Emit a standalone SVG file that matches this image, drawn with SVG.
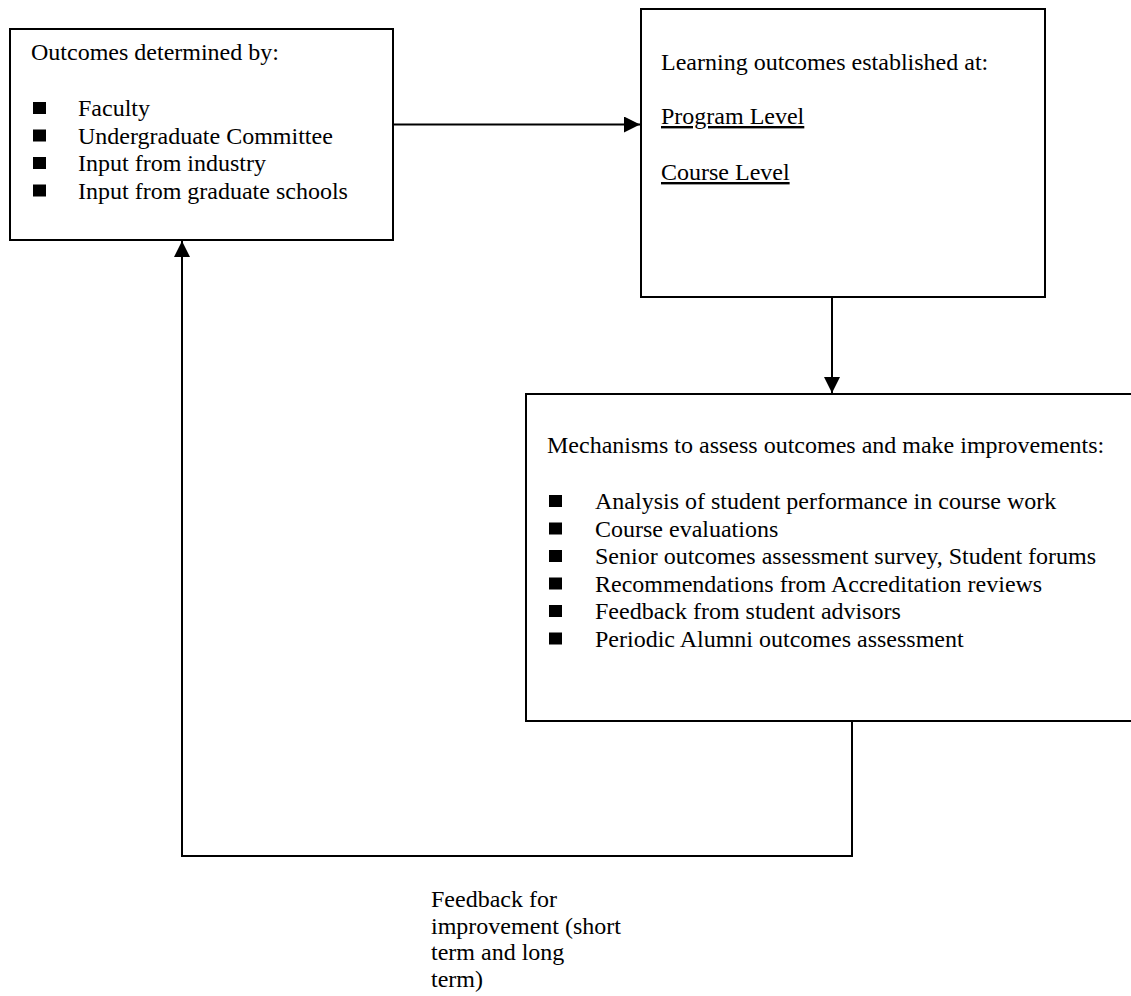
<svg xmlns="http://www.w3.org/2000/svg" width="1131" height="996" viewBox="0 0 1131 996">
<style>
.box{fill:#fff;stroke:#000;stroke-width:2}
.t{font-family:"Liberation Serif","Times New Roman",serif;font-size:24px;fill:#000}
.u{text-decoration:underline}
.c{fill:none;stroke:#000;stroke-width:2}
.b{fill:#000}
</style>
<defs>
<marker id="ah" viewBox="0 0 16 16" refX="16" refY="8" markerWidth="16" markerHeight="16" markerUnits="userSpaceOnUse" orient="auto">
<path d="M0,0 L16,8 L0,16 Z" fill="#000"/>
</marker>
</defs>
<rect width="1131" height="996" fill="#fff"/>
<g id="connectors">
<line class="c" x1="393" y1="124.5" x2="640" y2="124.5" marker-end="url(#ah)"/>
<line class="c" x1="832" y1="297" x2="832" y2="393" marker-end="url(#ah)"/>
<polyline class="c" points="852,721 852,856 182,856 182,241" marker-end="url(#ah)"/>
</g>
<g id="node-outcomes">
<rect class="box" x="10" y="29" width="383" height="211"/>
<text class="t" x="31" y="60">Outcomes determined by:</text>
<rect class="b" x="33" y="102" width="13" height="12"/>
<rect class="b" x="33" y="129.5" width="13" height="12"/>
<rect class="b" x="33" y="157" width="13" height="12"/>
<rect class="b" x="33" y="184.5" width="13" height="12"/>
<text class="t" x="78" y="116">Faculty</text>
<text class="t" x="78" y="143.5">Undergraduate Committee</text>
<text class="t" x="78" y="171">Input from industry</text>
<text class="t" x="78" y="198.5">Input from graduate schools</text>
</g>
<g id="node-learning">
<rect class="box" x="641" y="9" width="404" height="288"/>
<text class="t" x="661" y="70">Learning outcomes established at:</text>
<text class="t u" x="661" y="124">Program Level</text>
<text class="t u" x="661" y="180">Course Level</text>
</g>
<g id="node-mechanisms">
<rect class="box" x="526" y="394" width="620" height="327"/>
<text class="t" x="547" y="453">Mechanisms to assess outcomes and make improvements:</text>
<rect class="b" x="549" y="495" width="13" height="12"/>
<rect class="b" x="549" y="522.5" width="13" height="12"/>
<rect class="b" x="549" y="550" width="13" height="12"/>
<rect class="b" x="549" y="577.5" width="13" height="12"/>
<rect class="b" x="549" y="605" width="13" height="12"/>
<rect class="b" x="549" y="632.5" width="13" height="12"/>
<text class="t" x="595" y="509">Analysis of student performance in course work</text>
<text class="t" x="595" y="536.5">Course evaluations</text>
<text class="t" x="595" y="564">Senior outcomes assessment survey, Student forums</text>
<text class="t" x="595" y="591.5">Recommendations from Accreditation reviews</text>
<text class="t" x="595" y="619">Feedback from student advisors</text>
<text class="t" x="595" y="646.5">Periodic Alumni outcomes assessment</text>
</g>
<g id="label-feedback">
<text class="t" x="431" y="907">Feedback for</text>
<text class="t" x="431" y="933.5">improvement (short</text>
<text class="t" x="431" y="960">term and long</text>
<text class="t" x="431" y="986.5">term)</text>
</g>
</svg>
